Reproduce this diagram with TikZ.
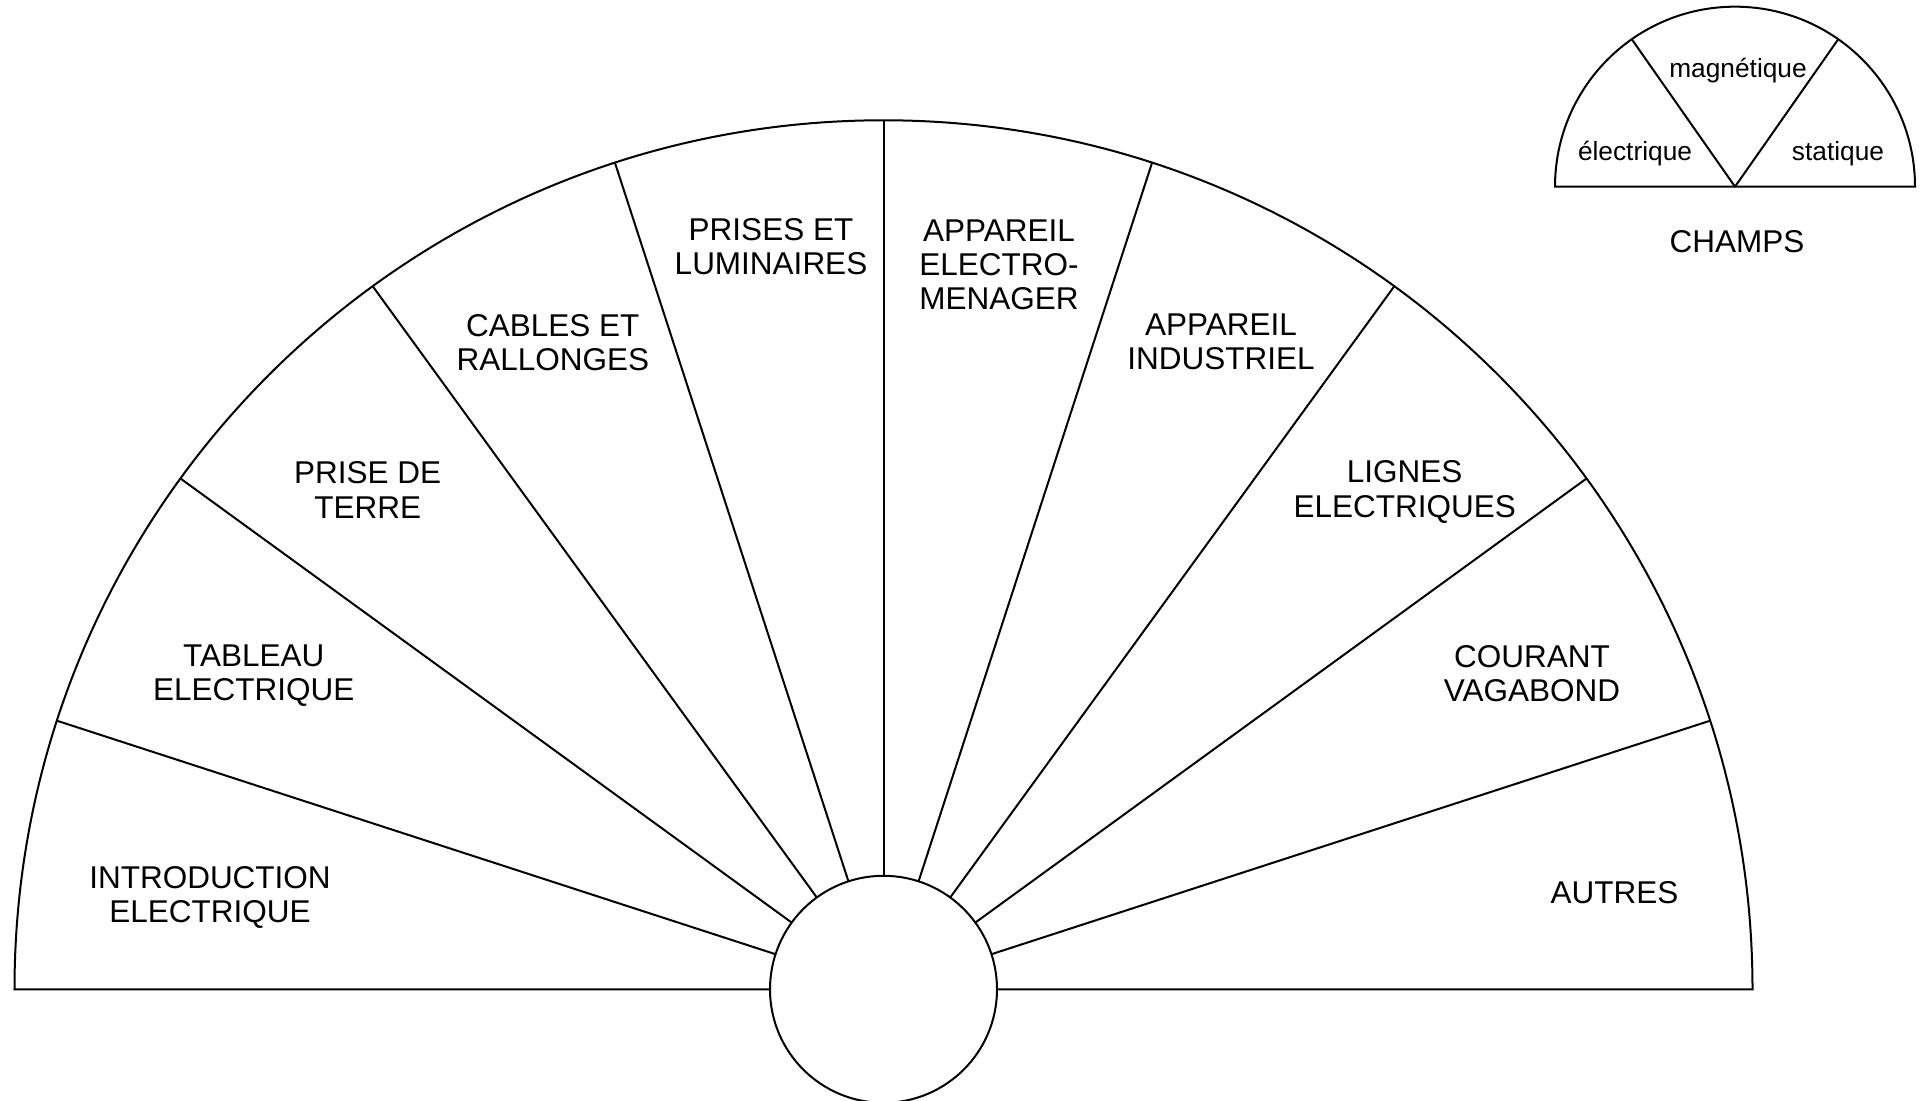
\documentclass[tikz,border=0pt]{standalone}
\usepackage{fontspec}
\setmainfont{Liberation Sans}
\definecolor{Ink}{HTML}{000000}

\begin{document}
\begin{tikzpicture}[x=0.5pt,y=0.5pt,line width=1pt,
  sector/.style={align=center,text=Ink,font=\fontsize{15.75}{17.15}\selectfont},
  field/.style={text=Ink,font=\fontsize{13.15}{15}\selectfont}]
        \useasboundingbox (0,0) rectangle (1922,1101);
        \coordinate (hub) at (883.5,111.7);
        \coordinate (champ) at (1735,914.3);
        % big dial
        \draw[Ink] (hub) ++(180:869) arc[start angle=180,end angle=0,radius=869] -- cycle;
        \foreach \a in {18,36,...,162}
          \draw[Ink] (hub) ++(\a:113.5) -- ++(\a:755.5);
        \filldraw[Ink,fill=white] (hub) circle[radius=113.5];
        \foreach \x/\y/\lab in {
          210/203.5/{INTRODUCTION\\ELECTRIQUE},
          253.7/425/{TABLEAU\\ELECTRIQUE},
          367.7/611/{PRISE DE\\TERRE},
          552.8/758/{CABLES ET\\RALLONGES},
          771/854.6/{PRISES ET\\LUMINAIRES},
          999/836/{APPAREIL\\ELECTRO-\\MENAGER},
          1221/759/{APPAREIL\\INDUSTRIEL},
          1404.7/609/{LIGNES\\ELECTRIQUES},
          1532/427/{COURANT\\VAGABOND},
          1614.4/208.6/{AUTRES}}
          {
            \node[sector] at (\x,\y) {\lab};
          }
        % small dial
        \draw[Ink] (champ) ++(180:180) arc[start angle=180,end angle=0,radius=180] -- cycle;
        \draw[Ink] (champ) -- ++(55:180);
        \draw[Ink] (champ) -- ++(125:180);
        \node[field] (elec) at (1635,947.5) {électrique};
        \node[field] (magn) at (1738,1030) {magnétique};
        \node[field] (stat) at (1838,947.5) {statique};
        \node[sector] (champs) at (1737,859.5) {CHAMPS};
      \end{tikzpicture}
\end{document}
